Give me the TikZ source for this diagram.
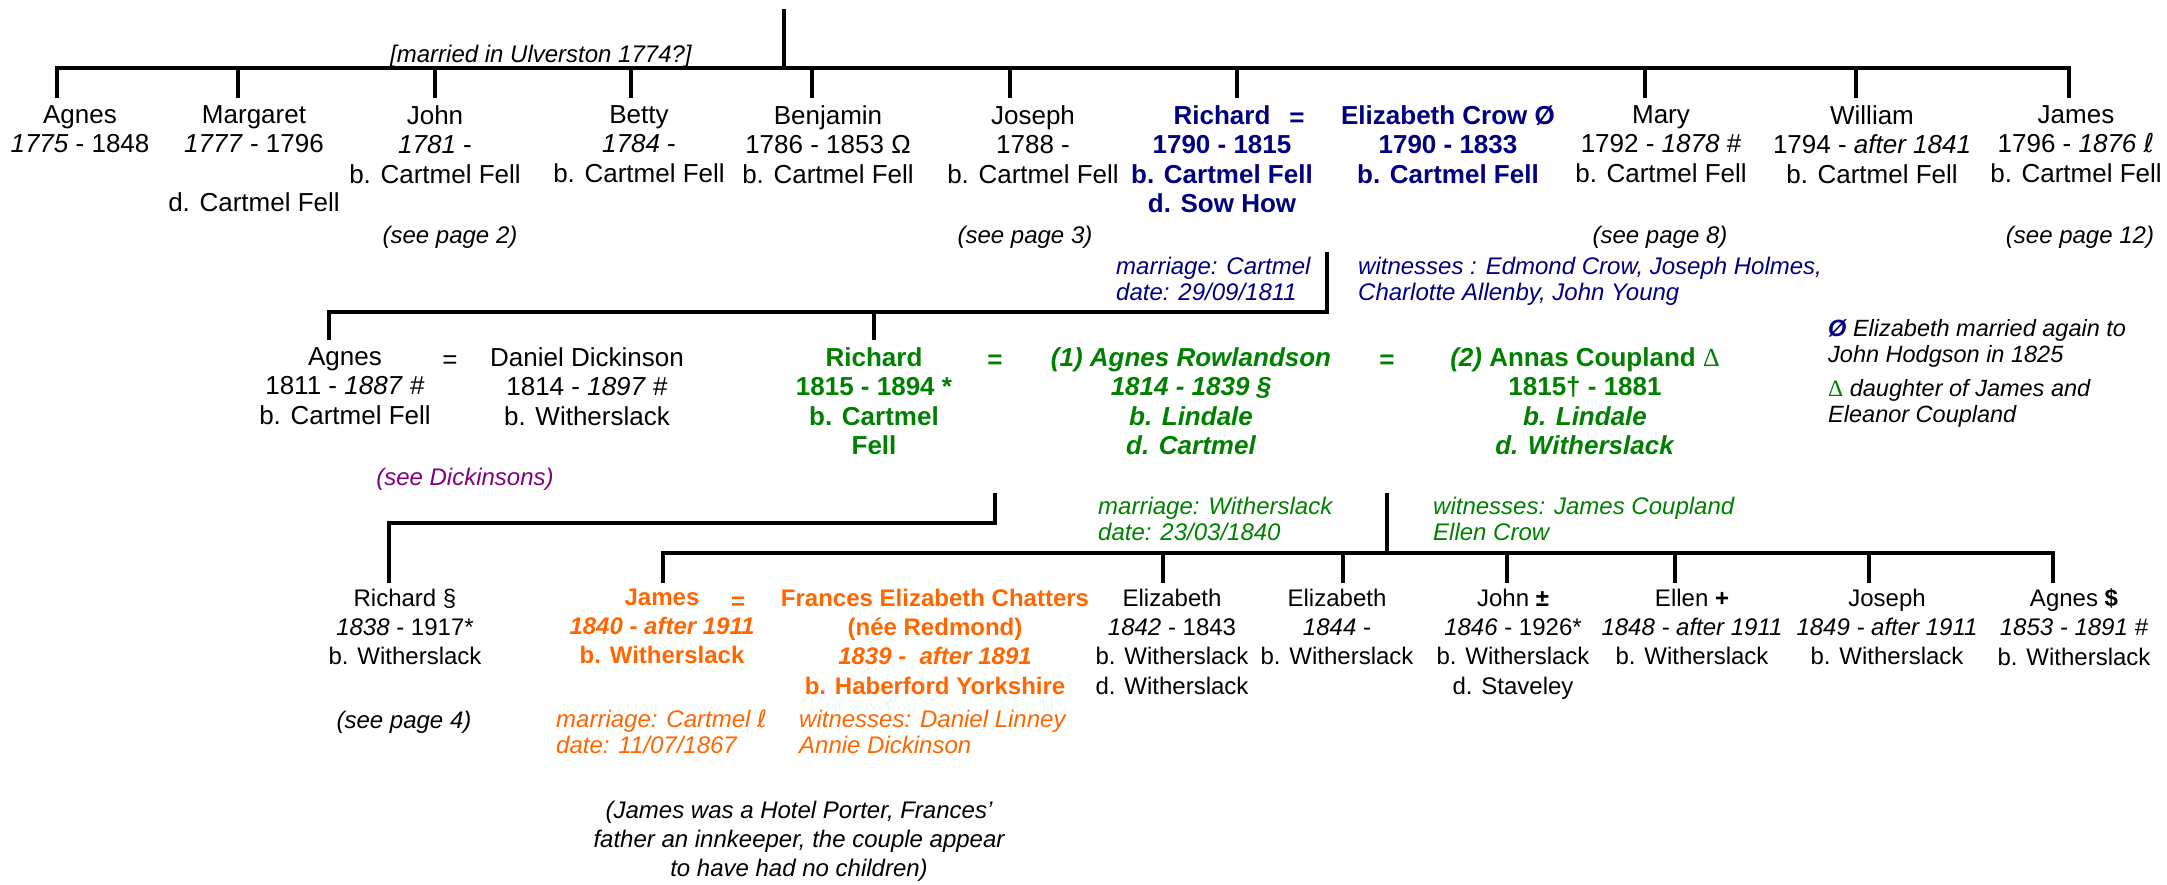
\documentclass[tikz,border=0pt]{standalone}
\usepackage{fontspec}
\setmainfont{Liberation Sans}
\newfontfamily\symfont{DejaVu Sans}
\newfontfamily\deltafont{Liberation Serif}
\usepackage{tikz}

\definecolor{navy}{RGB}{0,0,128}
\definecolor{leafgreen}{RGB}{0,128,0}
\definecolor{rustorange}{RGB}{255,102,0}
\definecolor{plum}{RGB}{128,0,128}

\newcommand{\bigtext}{\fontsize{26}{29.3}\selectfont}
\newcommand{\kidtext}{\fontsize{24}{29.3}\selectfont}
\newcommand{\remtext}{\fontsize{24}{26}\selectfont\itshape}
\newcommand{\lsym}{{\symfont\itshape ℓ}}
\newcommand{\deltasym}{{\deltafont\mdseries\upshape Δ}}

\begin{document}
\begin{tikzpicture}[x=1pt, y=-1pt,
            person/.style={align=center, inner sep=0pt, anchor=north, font=\bigtext, execute at begin node=\strut},
            spouse/.style={person, font=\bigtext\bfseries},
            kid/.style={person, font=\kidtext},
            remark/.style={align=left, inner sep=0pt, anchor=north west, font=\remtext, execute at begin node=\strut},
            footnote/.style={remark, font=\fontsize{23.5}{26}\selectfont\itshape},
            seepage/.style={inner sep=0pt, anchor=base, font=\fontsize{24}{29}\selectfont\itshape},
            tree line/.style={line width=3.5pt, line join=miter}]

            \useasboundingbox (0,0) rectangle (2167,884);

            % First generation: children of the 1774 marriage
            \node[remark] (ulverston) at (390,43.8) {[married in Ulverston 1774?]};
            \node[person] (agnes1) at (80,105.5) {Agnes\\\textit{1775} - 1848};
            \node[person] (margaret) at (254,105.5) {Margaret\\\textit{1777} - 1796\\[29.3pt]d. Cartmel Fell};
            \node[person] (john1) at (435,105.5) {John\\\textit{1781} -\\b. Cartmel Fell};
            \node[person] (betty) at (639,105.5) {Betty\\\textit{1784} -\\b. Cartmel Fell};
            \node[person] (benjamin) at (828,105.5) {Benjamin\\1786 - 1853 Ω\\b. Cartmel Fell};
            \node[person] (joseph1) at (1033,105.5) {Joseph\\1788 -\\b. Cartmel Fell};
            \node[spouse, text=navy] (richard1) at (1222,105.5) {Richard\\1790 - 1815\\b. Cartmel Fell\\d. Sow How};
            \node[spouse, text=navy] (eqcrow) at (1297,105.5) {=};
            \node[spouse, text=navy] (elizcrow) at (1448,105.5) {Elizabeth Crow Ø\\1790 - 1833\\b. Cartmel Fell};
            \node[person] (mary) at (1661,105.5) {Mary\\1792 - \textit{1878} \#\\b. Cartmel Fell};
            \node[person] (william) at (1872,105.5) {William\\1794 - \textit{after 1841}\\b. Cartmel Fell};
            \node[person] (james1) at (2076,105.5) {James\\1796 - \textit{1876 \lsym}\\b. Cartmel Fell};

            \node[seepage] (see2) at (450,243) {(see page 2)};
            \node[seepage] (see3) at (1025,243) {(see page 3)};
            \node[seepage] (see8) at (1660,243) {(see page 8)};
            \node[seepage] (see12) at (2080,243) {(see page 12)};

            \node[remark, text=navy] (marcartmel) at (1116,256.8) {marriage: Cartmel\\date: 29/09/1811};
            \node[remark, text=navy] (witcrow) at (1358,256.8) {witnesses : Edmond Crow, Joseph Holmes,\\Charlotte Allenby, John Young};

            % Footnotes
            \node[footnote] (fnhodgson) at (1828,318.8) {{\color{navy}\bfseries Ø} Elizabeth married again to\\John Hodgson in 1825};
            \node[footnote] (fncoupland) at (1828,378.8) {{\color{leafgreen}\deltasym} daughter of James and\\Eleanor Coupland};

            % Second generation: children of Richard and Elizabeth
            \node[person] (agnes2) at (345,347.5) {Agnes\\1811 - \textit{1887} \#\\b. Cartmel Fell};
            \node[person] (eqdick) at (450,347.5) {=};
            \node[person] (daniel) at (587,347.5) {Daniel Dickinson\\1814 - \textit{1897} \#\\b. Witherslack};
            \node[seepage, text=plum] (seedick) at (465,485) {(see Dickinsons)};
            \node[spouse, text=leafgreen] (richard2) at (874,347.5) {Richard\\1815 - 1894 *\\b. Cartmel\\Fell};
            \node[spouse, text=leafgreen] (eqrow) at (995,347.5) {=};
            \node[spouse, text=leafgreen, font=\bigtext\bfseries\itshape] (agnesrow) at (1191,347.5) {(1) Agnes Rowlandson\\1814 - 1839 §\\b. Lindale\\d. Cartmel};
            \node[spouse, text=leafgreen] (eqcoup) at (1387,347.5) {=};
            \node[spouse, text=leafgreen] (annas) at (1585,347.5) {\textit{(2)} Annas Coupland \deltasym\\1815† - 1881\\\textit{b. Lindale}\\\textit{d. Witherslack}};

            \node[remark, text=leafgreen] (marwith) at (1098,496.8) {marriage: Witherslack\\date: 23/03/1840};
            \node[remark, text=leafgreen] (witcoup) at (1433,496.8) {witnesses: James Coupland\\Ellen Crow};

            % Third generation
            \node[kid] (richard3) at (405,588.5) {Richard §\\\textit{1838} - 1917*\\b. Witherslack};
            \node[seepage] (see4) at (404,728) {(see page 4)};
            \node[kid, font=\kidtext\bfseries, text=rustorange] (james2) at (662,588.5) {James\\\textit{1840 - after 1911}\\b. Witherslack};
            \node[kid, font=\kidtext\bfseries, text=rustorange] (eqjames) at (738,588.5) {=};
            \node[kid, font=\kidtext\bfseries, text=rustorange] (frances) at (935,588.5) {Frances Elizabeth Chatters\\(née Redmond)\\\textit{1839 -~ after 1891}\\b. Haberford Yorkshire};
            \node[kid] (eliz1) at (1172,588.5) {Elizabeth\\\textit{1842} - 1843\\b. Witherslack\\d. Witherslack};
            \node[kid] (eliz2) at (1337,588.5) {Elizabeth\\\textit{1844} -\\b. Witherslack};
            \node[kid] (john2) at (1513,588.5) {John \textbf{±}\\\textit{1846} - 1926*\\b. Witherslack\\d. Staveley};
            \node[kid] (ellen) at (1692,588.5) {Ellen \textbf{+}\\\textit{1848 - after 1911}\\b. Witherslack};
            \node[kid] (joseph2) at (1887,588.5) {Joseph\\\textit{1849 - after 1911}\\b. Witherslack};
            \node[kid] (agnes3) at (2074,588.5) {Agnes \textbf{\$}\\\textit{1853 - 1891 \#}\\b. Witherslack};

            \node[remark, text=rustorange] (marjames) at (556,709.8) {marriage: Cartmel \lsym\\date: 11/07/1867};
            \node[remark, text=rustorange] (witjames) at (799,709.8) {witnesses: Daniel Linney\\Annie Dickinson};
            \node[kid, font=\kidtext\itshape] (porter) at (799,800.5) {(James was a Hotel Porter, Frances’\\father an innkeeper, the couple appear\\to have had no children)};

            % Junctions of the tree lines
            \coordinate (trunk) at (784,9);
            \coordinate (topbar) at (0,68);
            \coordinate (d-agnes1) at (57,98);
            \coordinate (d-margaret) at (238,98);
            \coordinate (d-john1) at (435,98);
            \coordinate (d-betty) at (631,98);
            \coordinate (d-benjamin) at (812,98);
            \coordinate (d-joseph1) at (1010,98);
            \coordinate (d-richard1) at (1237,98);
            \coordinate (d-mary) at (1645,98);
            \coordinate (d-william) at (1856,98);
            \coordinate (d-james1) at (2069,98);

            \coordinate (wed1) at (1327,252);
            \coordinate (midbar) at (1327,312);
            \coordinate (d-agnes2) at (329,340);
            \coordinate (d-richard2) at (874,340);

            \coordinate (wed2) at (995,493);
            \coordinate (lowbar1) at (995,523);
            \coordinate (d-richard3) at (389,583);

            \coordinate (wed3) at (1387,493);
            \coordinate (lowbar2) at (1387,553);
            \coordinate (d-james2) at (663,583);
            \coordinate (d-eliz1) at (1163,583);
            \coordinate (d-eliz2) at (1343,583);
            \coordinate (d-john2) at (1507,583);
            \coordinate (d-ellen) at (1675,583);
            \coordinate (d-joseph2) at (1869,583);
            \coordinate (d-agnes3) at (2053,583);

            % Tree lines
            \draw[tree line] (trunk) -- (trunk |- topbar);
            \draw[tree line] (d-agnes1) -- (d-agnes1 |- topbar) -- (d-james1 |- topbar) -- (d-james1);
            \draw[tree line] (d-margaret |- topbar) -- (d-margaret);
            \draw[tree line] (d-john1 |- topbar) -- (d-john1);
            \draw[tree line] (d-betty |- topbar) -- (d-betty);
            \draw[tree line] (d-benjamin |- topbar) -- (d-benjamin);
            \draw[tree line] (d-joseph1 |- topbar) -- (d-joseph1);
            \draw[tree line] (d-richard1 |- topbar) -- (d-richard1);
            \draw[tree line] (d-mary |- topbar) -- (d-mary);
            \draw[tree line] (d-william |- topbar) -- (d-william);

            \draw[tree line] (wed1) -- (midbar) -- (d-agnes2 |- midbar) -- (d-agnes2);
            \draw[tree line] (d-richard2 |- midbar) -- (d-richard2);

            \draw[tree line] (wed2) -- (lowbar1) -- (d-richard3 |- lowbar1) -- (d-richard3);

            \draw[tree line] (wed3) -- (lowbar2);
            \draw[tree line] (d-james2) -- (d-james2 |- lowbar2) -- (d-agnes3 |- lowbar2) -- (d-agnes3);
            \draw[tree line] (d-eliz1 |- lowbar2) -- (d-eliz1);
            \draw[tree line] (d-eliz2 |- lowbar2) -- (d-eliz2);
            \draw[tree line] (d-john2 |- lowbar2) -- (d-john2);
            \draw[tree line] (d-ellen |- lowbar2) -- (d-ellen);
            \draw[tree line] (d-joseph2 |- lowbar2) -- (d-joseph2);
        \end{tikzpicture}
\end{document}
